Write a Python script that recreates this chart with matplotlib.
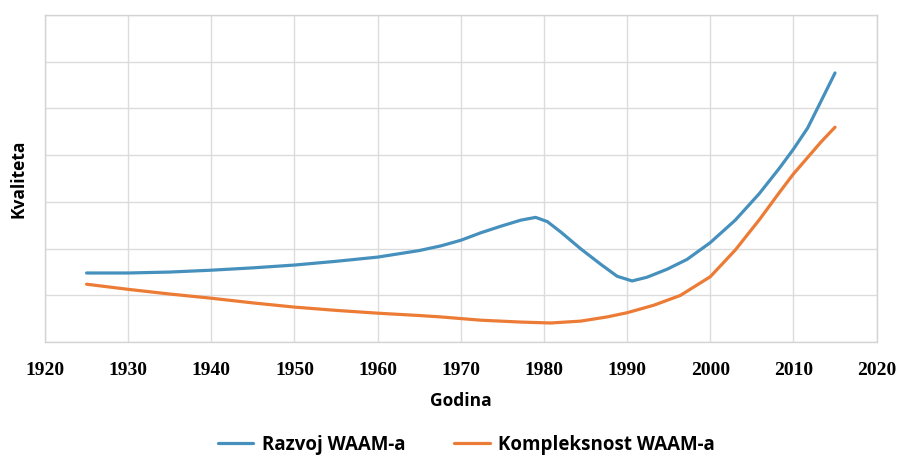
import matplotlib
matplotlib.use("Agg")
import matplotlib.pyplot as plt

years_razvoj = [1925, 1930, 1935, 1940, 1945, 1950, 1955, 1960, 1965, 1967.6, 1970, 1972.4,
                1974.8, 1977.2, 1979, 1980.4, 1982, 1984.4, 1986.8, 1988.8, 1990.6, 1992.4,
                1994.8, 1997.2, 2000, 2003, 2005.9, 2008.3, 2010, 2011.7, 2013.3, 2015]
razvoj = [1.48, 1.48, 1.50, 1.54, 1.59, 1.65, 1.73, 1.82, 1.96, 2.06, 2.18, 2.34,
          2.48, 2.61, 2.67, 2.58, 2.36, 2.00, 1.67, 1.41, 1.31, 1.39,
          1.56, 1.77, 2.13, 2.61, 3.18, 3.72, 4.13, 4.58, 5.15, 5.76]

years_kompl = [1925, 1930, 1935, 1940, 1945, 1950, 1955, 1960, 1965, 1967.6, 1972.4, 1977.2,
               1980.8, 1984.4, 1987.6, 1990, 1993.2, 1996.4, 2000, 2003, 2005.9, 2008.3,
               2010, 2011.7, 2013.3, 2015]
kompleksnost = [1.24, 1.13, 1.03, 0.94, 0.84, 0.75, 0.68, 0.62, 0.57, 0.54, 0.47, 0.43,
                0.41, 0.45, 0.54, 0.63, 0.79, 1.00, 1.40, 1.97, 2.62, 3.20,
                3.60, 3.95, 4.28, 4.60]

x_ticks = [1920, 1930, 1940, 1950, 1960, 1970, 1980, 1990, 2000, 2010, 2020]
y_grid = [0, 1, 2, 3, 4, 5, 6, 7]

series_names = ["Razvoj WAAM-a", "Kompleksnost WAAM-a"]
blue = "#4690bd"
orange = "#ec7b36"

fig = plt.figure(figsize=(9, 4.55), dpi=100)
ax = fig.add_axes([0.05, 0.248, 0.924, 0.719])

ax.plot(years_razvoj, razvoj, color=blue, lw=2.3, solid_capstyle="round",
        solid_joinstyle="round", label=series_names[0])
ax.plot(years_kompl, kompleksnost, color=orange, lw=2.3, solid_capstyle="round",
        solid_joinstyle="round", label=series_names[1])

ax.set_xlim(1920, 2020)
ax.set_ylim(0, 7)
ax.set_xticks(x_ticks)
ax.set_xticklabels([str(t) for t in x_ticks], fontfamily="Liberation Serif",
                   fontweight="bold", fontsize=14)
ax.set_yticks(y_grid)
ax.set_yticklabels([])
ax.tick_params(axis="both", length=0)
ax.tick_params(axis="x", pad=14)
ax.grid(True, color="#dcdcdc", lw=1.0)
for s in ax.spines.values():
    s.set_color("#d4d4d4")
    s.set_linewidth(1.0)

ax.set_xlabel("Godina", fontfamily="Open Sans", fontweight="bold", fontsize=12.5, labelpad=10)
ax.set_ylabel("Kvaliteta", fontfamily="Open Sans", fontweight="bold", fontsize=12.5, labelpad=9)

fig.legend(loc="center", bbox_to_anchor=(0.518, 0.022), ncol=2, frameon=False,
           prop={"family": "Open Sans", "weight": "bold", "size": 13.5},
           handlelength=1.9, columnspacing=2.6, handletextpad=0.45)

fig.savefig("out.png", dpi=100)
